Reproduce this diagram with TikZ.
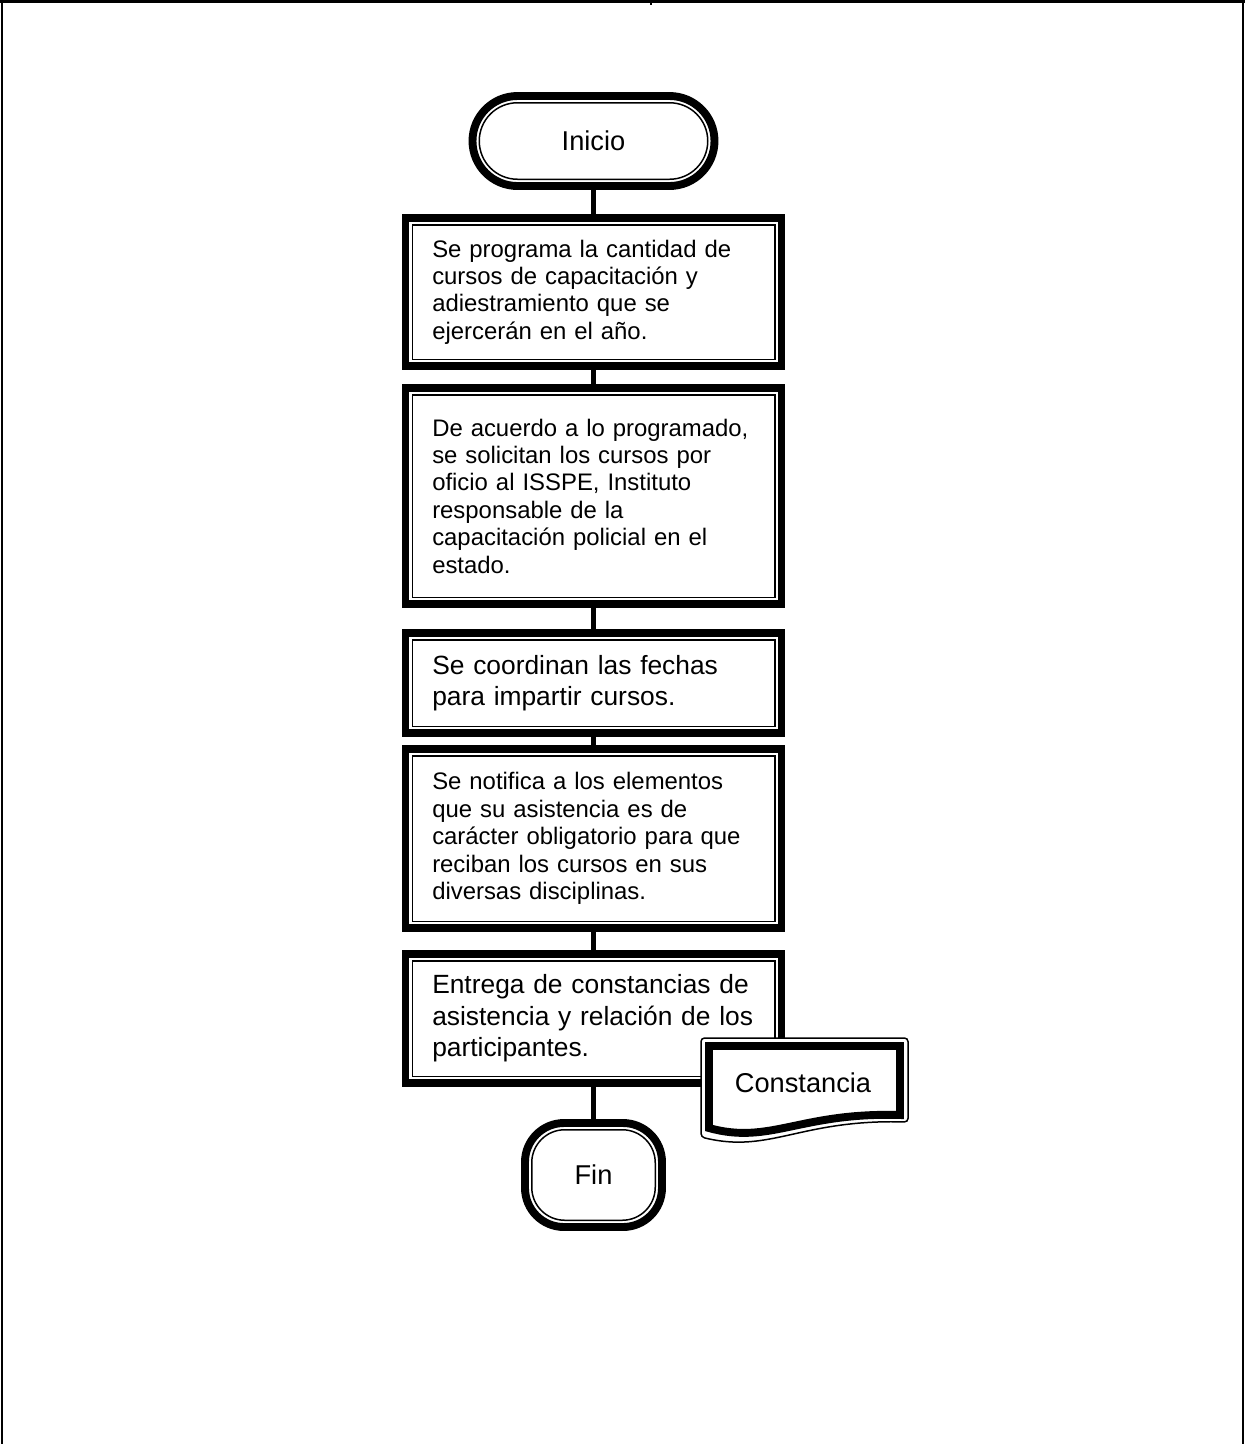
\documentclass[tikz,border=0pt]{standalone}
\usepackage{fontspec}
\setmainfont{Liberation Sans}
\usepackage{tikz}
\usetikzlibrary{fit}
\tikzset{
  proc/.style={draw, line width=0.85pt, outer sep=0pt, inner xsep=0.4cm, text width=6.45cm,
    minimum width=7.25cm, align=left, font=\fontsize{13.6}{15.6}\selectfont},
  procbig/.style={proc, font=\fontsize{15}{18}\selectfont},
  frame/.style={draw, line width=4.5pt, inner sep=0.135cm, outer sep=0pt},
  term/.style={draw, line width=0.85pt, outer sep=0pt, font=\fontsize{15.5}{18}\selectfont},
  flow/.style={line width=2.85pt},
}

\begin{document}
\begin{tikzpicture}
  \useasboundingbox (0,0) rectangle (24.9,-28.88);
  % page frame
  \draw[line width=1.4pt] (0,-0.03) -- (24.9,-0.03);
  \draw[line width=0.8pt] (0.04,0) -- (0.04,-28.88);
  \draw[line width=0.8pt] (24.86,0) -- (24.86,-28.88);
  \draw[line width=0.6pt] (13.02,0) -- (13.02,-0.1);

  \node[term, minimum width=4.57cm, minimum height=1.53cm, rounded corners=0.765cm] (ini) at (11.87,-2.82) {Inicio};
  \node[frame, rounded corners=0.9cm, fit=(ini)] (inio) {};

  \node[proc, minimum height=2.69cm] (prog) at (11.87,-5.84)
    {Se programa la cantidad de\\cursos de capacitación y\\adiestramiento que se\\ejercerán en el año.};
  \node[frame, fit=(prog)] (progo) {};

  \node[proc, minimum height=4.05cm] (solic) at (11.87,-9.92)
    {De acuerdo a lo programado,\\se solicitan los cursos por\\oficio al ISSPE, Instituto\\responsable de la\\capacitación policial en el\\estado.};
  \node[frame, fit=(solic)] (solico) {};

  \node[procbig, minimum height=1.73cm] (fechas) at (11.87,-13.66)
    {Se coordinan las fechas\\para impartir cursos.};
  \node[frame, fit=(fechas)] (fechaso) {};

  \node[proc, minimum height=3.31cm] (notif) at (11.87,-16.77)
    {Se notifica a los elementos\\que su asistencia es de\\carácter obligatorio para que\\reciban los cursos en sus\\diversas disciplinas.};
  \node[frame, fit=(notif)] (notifo) {};

  \node[procbig, minimum height=2.31cm] (entrega) at (11.87,-20.37)
    {Entrega de constancias de\\asistencia y relación de los\\participantes.};
  \node[frame, fit=(entrega)] (entregao) {};

  \node[term, minimum width=2.47cm, minimum height=1.81cm, rounded corners=0.66cm] (fin) at (11.87,-23.5) {Fin};
  \node[frame, rounded corners=0.78cm, fit=(fin)] (fino) {};

  % connectors
  \draw[flow] (inio.south) -- (progo.north);
  \draw[flow] (progo.south) -- (solico.north);
  \draw[flow] (solico.south) -- (fechaso.north);
  \draw[flow] (fechaso.south) -- (notifo.north);
  \draw[flow] (notifo.south) -- (entregao.north);
  \draw[flow] (entregao.south) -- (fino.north);

  % document
  \draw[fill=white, line width=0.85pt, rounded corners=2pt] (14.02,-20.76) -- (18.16,-20.76) -- (18.16,-22.44)
    .. controls (16.0,-22.38) and (15.4,-23.08) .. (14.02,-22.74) -- cycle;
  \draw[line width=4.5pt] (14.18,-20.92) -- (18.0,-20.92) -- (18.0,-22.3)
    .. controls (16.0,-22.24) and (15.4,-22.9) .. (14.18,-22.56) -- cycle;
  \node[term, draw=none] (const) at (16.06,-21.66) {Constancia};
\end{tikzpicture}
\end{document}
